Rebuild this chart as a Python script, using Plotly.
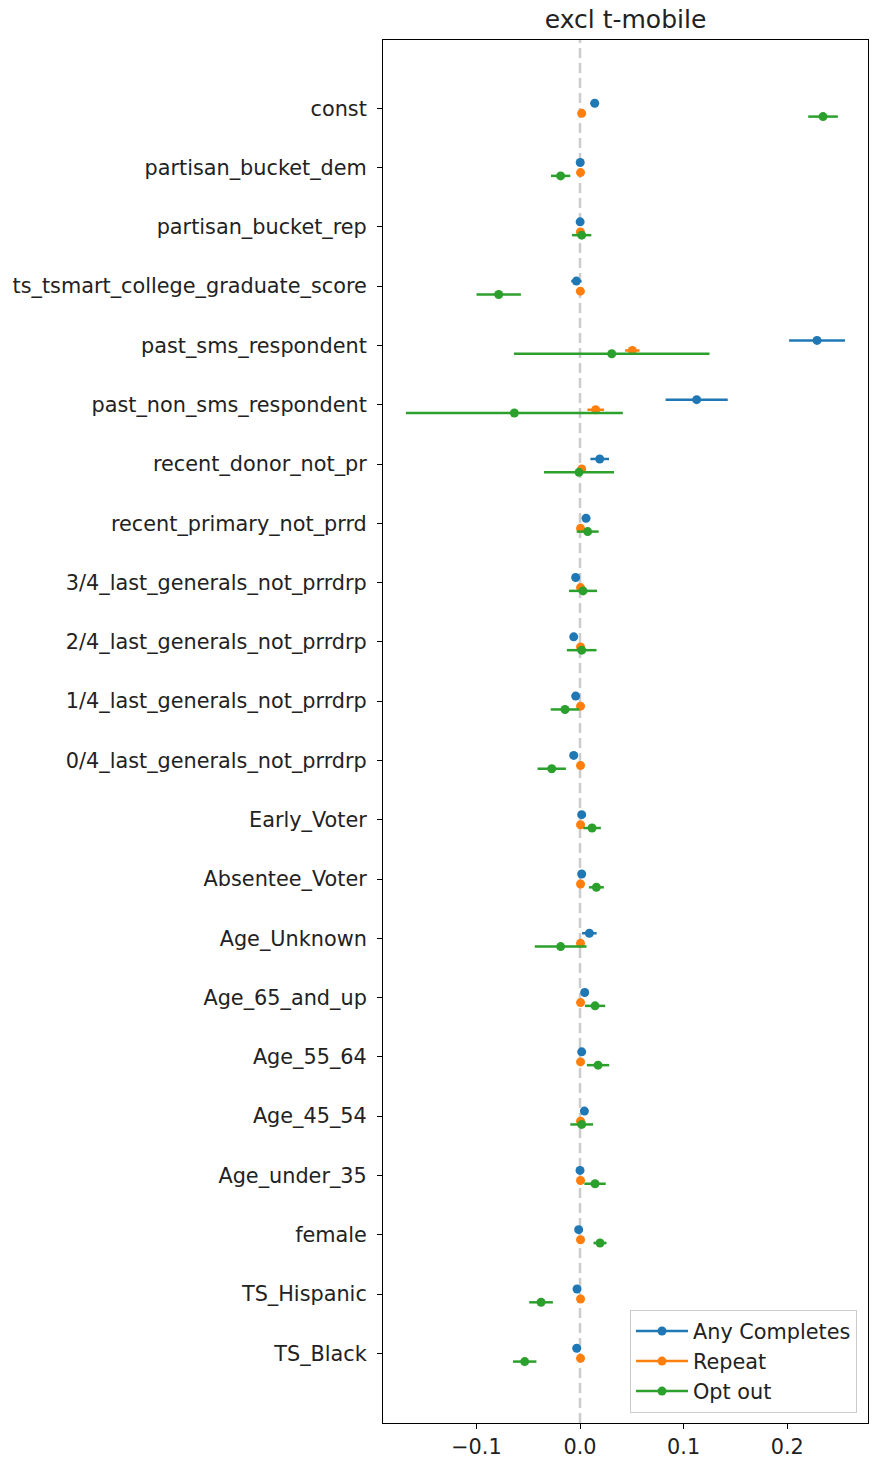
import plotly.graph_objects as go

categories = ["const", "partisan_bucket_dem", "partisan_bucket_rep",
              "ts_tsmart_college_graduate_score", "past_sms_respondent",
              "past_non_sms_respondent", "recent_donor_not_pr",
              "recent_primary_not_prrd", "3/4_last_generals_not_prrdrp",
              "2/4_last_generals_not_prrdrp", "1/4_last_generals_not_prrdrp",
              "0/4_last_generals_not_prrdrp", "Early_Voter", "Absentee_Voter",
              "Age_Unknown", "Age_65_and_up", "Age_55_64", "Age_45_54",
              "Age_under_35", "female", "TS_Hispanic", "TS_Black"]

any_coef = [0.0142, 0.0002, 0.0001, -0.0035, 0.2288, 0.1126, 0.0190, 0.0058,
            -0.0042, -0.0061, -0.0042, -0.0061, 0.0016, 0.0016, 0.0090, 0.0045,
            0.0016, 0.0042, 0.0000, -0.0013, -0.0029, -0.0032]
any_err = [0.004, 0.002, 0.002, 0.005, 0.027, 0.030, 0.009, 0.002,
           0.003, 0.003, 0.002, 0.003, 0.002, 0.002, 0.007, 0.002,
           0.002, 0.003, 0.003, 0.002, 0.002, 0.002]

rep_coef = [0.0016, 0.0005, 0.0004, 0.0003, 0.0505, 0.0151, 0.0016, 0.0005,
            0.0005, 0.0005, 0.0005, 0.0005, 0.0005, 0.0005, 0.0005, 0.0005,
            0.0005, 0.0005, 0.0005, 0.0005, 0.0005, 0.0005]
rep_err = [0.001, 0.001, 0.001, 0.001, 0.007, 0.008, 0.001, 0.001,
           0.001, 0.001, 0.001, 0.001, 0.001, 0.001, 0.001, 0.001,
           0.001, 0.001, 0.001, 0.001, 0.001, 0.001]

opt_coef = [0.2346, -0.0187, 0.0016, -0.0785, 0.0306, -0.0634, -0.0010, 0.0074,
            0.0029, 0.0016, -0.0145, -0.0273, 0.0116, 0.0158, -0.0187, 0.0145,
            0.0174, 0.0016, 0.0145, 0.0193, -0.0376, -0.0534]
opt_err = [0.0143, 0.0093, 0.0093, 0.0214, 0.0944, 0.1047, 0.0338, 0.0106,
           0.0135, 0.0143, 0.0138, 0.0137, 0.0085, 0.0072, 0.0250, 0.0098,
           0.0108, 0.0110, 0.0103, 0.0063, 0.0114, 0.0113]

series_names = ["Any Completes", "Repeat", "Opt out"]
series_colors = ["#1f77b4", "#ff7f0e", "#2ca02c"]
series_offsets = [-0.085, 0.085, 0.14]
series_coefs = [any_coef, rep_coef, opt_coef]
series_errs = [any_err, rep_err, opt_err]

fig = go.Figure()
base = list(range(len(categories)))

for name, col, off, coef, err in zip(series_names, series_colors, series_offsets,
                                     series_coefs, series_errs):
    fig.add_trace(go.Scatter(
        x=coef, y=[b + off for b in base], mode="markers", name=name,
        marker=dict(color=col, size=9),
        error_x=dict(type="data", array=err, color=col, thickness=2.5, width=0),
        showlegend=False, hoverinfo="x+name"))

for name, col in zip(series_names, series_colors):
    fig.add_trace(go.Scatter(
        x=[None], y=[None], mode="lines+markers", name=name,
        line=dict(color=col, width=2.5), marker=dict(color=col, size=9)))

fig.add_shape(type="line", xref="x", yref="paper", x0=0, x1=0, y0=0, y1=1,
              line=dict(color="#cccccc", width=2.5, dash="10px,5px"), layer="below")

fig.update_layout(
    width=873, height=1463,
    margin=dict(l=383, r=5, t=40, b=40),
    paper_bgcolor="white", plot_bgcolor="white",
    font=dict(family="DejaVu Sans", size=20.8, color="#222222"),
    title=dict(text="excl t-mobile", x=(383 + 868) / 2 / 873, xanchor="center",
               y=1 - 19 / 1463, yanchor="middle", font=dict(size=25, color="#222222")),
    xaxis=dict(range=[-0.1902, 0.278], tickvals=[-0.1, 0.0, 0.1, 0.2],
               ticktext=["\u22120.1", "0.0", "0.1", "0.2"],
               showgrid=False, zeroline=False, showline=True, linecolor="black",
               linewidth=1, mirror=True, ticks="outside", ticklen=5,
               tickcolor="black", tickfont=dict(size=20.8)),
    yaxis=dict(range=[22.176, -1.152], tickvals=base, ticktext=categories,
               showgrid=False, zeroline=False, showline=True, linecolor="black",
               linewidth=1, mirror=True, ticks="outside", ticklen=5,
               tickcolor="black", tickfont=dict(size=20.8), ticklabelstandoff=6),
    legend=dict(x=(857 - 383) / 485, xanchor="right", y=(1423 - 1413) / 1383,
                yanchor="bottom", bgcolor="white", bordercolor="#cccccc",
                borderwidth=1, font=dict(size=20.8, color="#222222"),
                tracegroupgap=0, itemwidth=52),
)

fig.write_html("out.html", config={"displayModeBar": False},
               post_script="document.body.style.margin='0';"
                           "document.body.style.overflow='hidden';")
